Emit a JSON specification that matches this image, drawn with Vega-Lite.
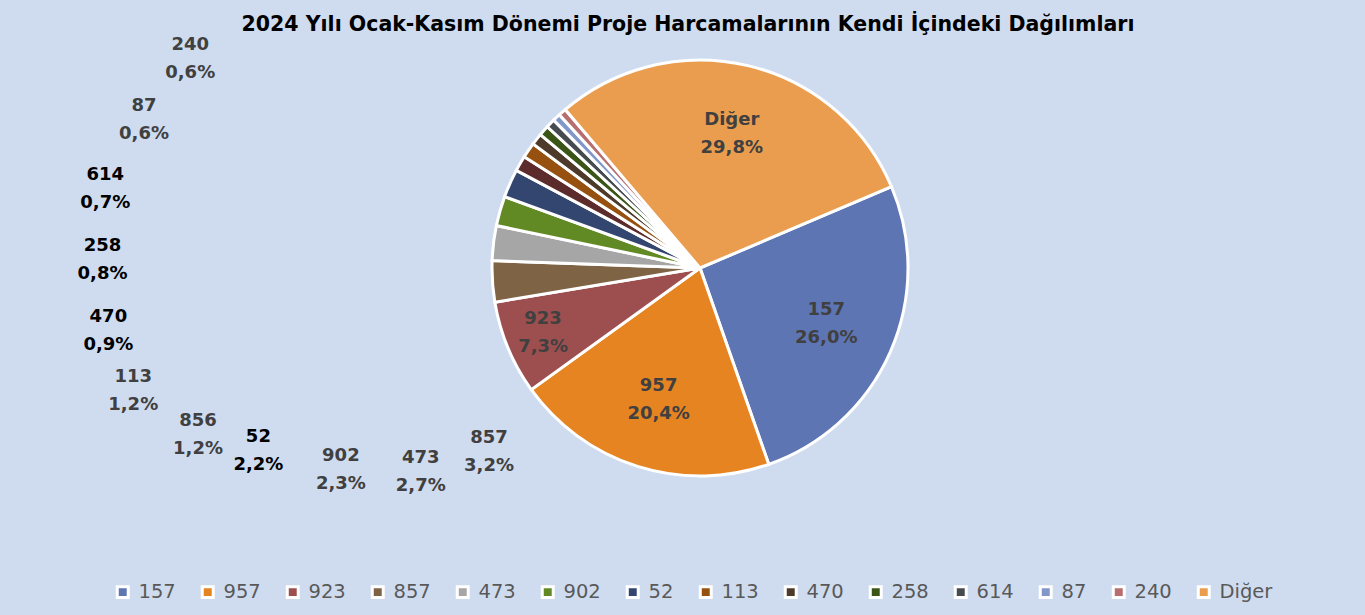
{
  "$schema": "https://vega.github.io/schema/vega-lite/v6.json",
  "autosize": {"type": "none"},
  "width": 1330,
  "height": 446,
  "padding": {"left": 35, "top": 45, "right": 0, "bottom": 124},
  "background": "#CFDCEF",
  "title": {
    "text": "2024 Yılı Ocak-Kasım Dönemi Proje Harcamalarının Kendi İçindeki Dağılımları",
    "font": "DejaVu Sans",
    "fontSize": 20.5,
    "fontWeight": "bold",
    "color": "#000000",
    "anchor": "middle",
    "offset": 0,
    "dx": -12
  },
  "data": {
    "values": [
      {"kategori": "157", "sira": 1, "pay": 0.260},
      {"kategori": "957", "sira": 2, "pay": 0.204},
      {"kategori": "923", "sira": 3, "pay": 0.073},
      {"kategori": "857", "sira": 4, "pay": 0.032},
      {"kategori": "473", "sira": 5, "pay": 0.027},
      {"kategori": "902", "sira": 6, "pay": 0.023},
      {"kategori": "52", "sira": 7, "pay": 0.022},
      {"kategori": "856", "sira": 8, "pay": 0.012},
      {"kategori": "113", "sira": 9, "pay": 0.012},
      {"kategori": "470", "sira": 10, "pay": 0.009},
      {"kategori": "258", "sira": 11, "pay": 0.008},
      {"kategori": "614", "sira": 12, "pay": 0.007},
      {"kategori": "87", "sira": 13, "pay": 0.006},
      {"kategori": "240", "sira": 14, "pay": 0.006},
      {"kategori": "Diğer", "sira": 15, "pay": 0.298}
    ]
  },
  "layer": [
    {
      "mark": {"type": "arc", "outerRadius": 208, "stroke": "#FFFFFF", "strokeWidth": 3},
      "encoding": {
        "theta": {"field": "pay", "type": "quantitative", "stack": true, "scale": {"range": [1.1694, 7.4526]}},
        "order": {"field": "sira", "type": "quantitative"},
        "color": {
          "field": "kategori",
          "type": "nominal",
          "sort": null,
          "scale": {
            "domain": ["157", "957", "923", "857", "473", "902", "52", "856", "113", "470", "258", "614", "87", "240", "Diğer"],
            "range": ["#5E75B4", "#E68422", "#9D4F4F", "#7F6345", "#A6A6A6", "#628A24", "#33466F", "#5C2B2B", "#96500F", "#4D3A2A", "#3B5517", "#454B4F", "#8196C9", "#B86E6E", "#EA9D4E"]
          },
          "legend": {
            "title": null,
            "values": ["157", "957", "923", "857", "473", "902", "52", "113", "470", "258", "614", "87", "240", "Diğer"],
            "orient": "none",
            "direction": "horizontal",
            "legendX": 78,
            "legendY": 537,
            "columns": 14,
            "symbolType": "square",
            "symbolSize": 120,
            "symbolStrokeColor": "#FFFFFF",
            "symbolStrokeWidth": 3,
            "symbolOpacity": 1,
            "labelFont": "DejaVu Sans",
            "labelFontSize": 19.5,
            "labelColor": "#595959",
            "labelOffset": 6,
            "columnPadding": 20
          }
        }
      }
    },
    {
      "mark": {"type": "text", "font": "DejaVu Sans", "fontSize": 18, "fontWeight": "bold", "color": "#404040", "dy": -14},
      "encoding": {
        "theta": {"field": "pay", "type": "quantitative", "stack": true, "scale": {"range": [1.1694, 7.4526]}},
        "radius": {"field": "pay", "type": "quantitative", "scale": {"type": "linear", "domain": [0.073, 0.204], "range": [170, 138], "clamp": true, "zero": false, "nice": false}},
        "order": {"field": "sira", "type": "quantitative"},
        "text": {"condition": {"test": "datum.sira <= 3 || datum.sira == 15", "field": "kategori"}, "value": ""}
      }
    },
    {
      "mark": {"type": "text", "font": "DejaVu Sans", "fontSize": 18, "fontWeight": "bold", "color": "#404040", "dy": 14},
      "encoding": {
        "theta": {"field": "pay", "type": "quantitative", "stack": true, "scale": {"range": [1.1694, 7.4526]}},
        "radius": {"field": "pay", "type": "quantitative", "scale": {"type": "linear", "domain": [0.073, 0.204], "range": [170, 138], "clamp": true, "zero": false, "nice": false}},
        "order": {"field": "sira", "type": "quantitative"},
        "text": {"condition": {"test": "datum.sira <= 3 || datum.sira == 15", "field": "pay", "format": ".1%"}, "value": ""}
      }
    },
    {
      "transform": [{"filter": "datum.sira >= 4 && datum.sira <= 14"}],
      "mark": {"type": "text", "font": "DejaVu Sans", "fontSize": 18, "fontWeight": "bold", "dy": -14},
      "encoding": {
        "theta": {"field": "sira", "type": "quantitative", "stack": null, "scale": {"type": "linear", "domain": [4, 5, 7, 8, 10, 12, 14], "range": [3.9951, 4.0806, 4.3197, 4.3913, 4.6059, 4.8450, 5.1016], "zero": false, "nice": false}},
        "radius": {"field": "sira", "type": "quantitative", "scale": {"type": "linear", "domain": [4, 7, 9, 10, 12, 14], "range": [280, 478, 580, 595, 600, 551], "zero": false, "nice": false}},
        "text": {"field": "kategori"},
        "color": {"condition": {"test": "indexof(['614','258','470','52'], datum.kategori) >= 0", "value": "#000000"}, "value": "#404040"}
      }
    },
    {
      "transform": [{"filter": "datum.sira >= 4 && datum.sira <= 14"}],
      "mark": {"type": "text", "font": "DejaVu Sans", "fontSize": 18, "fontWeight": "bold", "dy": 14},
      "encoding": {
        "theta": {"field": "sira", "type": "quantitative", "stack": null, "scale": {"type": "linear", "domain": [4, 5, 7, 8, 10, 12, 14], "range": [3.9951, 4.0806, 4.3197, 4.3913, 4.6059, 4.8450, 5.1016], "zero": false, "nice": false}},
        "radius": {"field": "sira", "type": "quantitative", "scale": {"type": "linear", "domain": [4, 7, 9, 10, 12, 14], "range": [280, 478, 580, 595, 600, 551], "zero": false, "nice": false}},
        "text": {"field": "pay", "format": ".1%"},
        "color": {"condition": {"test": "indexof(['614','258','470','52'], datum.kategori) >= 0", "value": "#000000"}, "value": "#404040"}
      }
    }
  ],
  "resolve": {"scale": {"theta": "independent", "radius": "independent"}},
  "config": {
    "view": {"stroke": null},
    "locale": {"number": {"decimal": ",", "thousands": ".", "grouping": [3], "currency": ["", " ₺"]}}
  }
}
